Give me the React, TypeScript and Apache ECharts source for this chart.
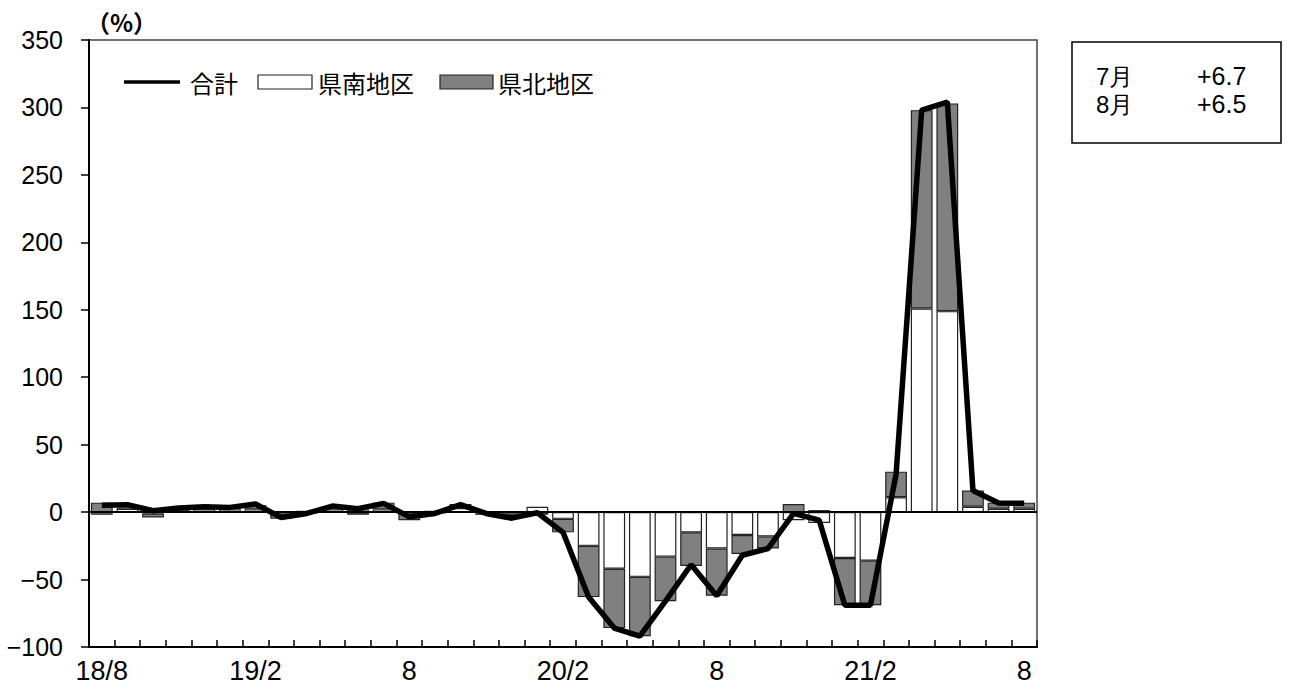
import React, { useEffect, useRef } from "react";
import * as echarts from "echarts";

const months: string[] = [
  "2018/8", "2018/9", "2018/10", "2018/11", "2018/12",
  "2019/1", "2019/2", "2019/3", "2019/4", "2019/5", "2019/6", "2019/7", "2019/8", "2019/9", "2019/10", "2019/11", "2019/12",
  "2020/1", "2020/2", "2020/3", "2020/4", "2020/5", "2020/6", "2020/7", "2020/8", "2020/9", "2020/10", "2020/11", "2020/12",
  "2021/1", "2021/2", "2021/3", "2021/4", "2021/5", "2021/6", "2021/7", "2021/8",
];

const tickLabels: string[] = ["18/8", "19/2", "8", "20/2", "8", "21/2", "8"];

const southValues: number[] = [
  -2, 2.5, -1, 1, 2, 2, 2, -1, 1, 2, 2, 2, -1, 1, 3, -1, -1, 4,
  -5, -25, -42, -48, -33, -15, -27, -17, -18, -6, -8, -34, -36,
  11, 151, 149, 4, 2.5, 2.5,
];

const northValues: number[] = [
  7, 1, -3, 1, 1, 1, 3, -4, -1, 2, -2, 5, -5, -1, 3, -1, -2, -2,
  -10, -38, -44, -44, -33, -25, -35, -14, -9, 6, 1.5, -35, -33,
  19, 147, 154, 12, 4.5, 4.5,
];

const totalValues: number[] = [
  5, 5.5, 1, 3, 4, 3.5, 6, -4, -1, 4.5, 2.5, 6.5, -3.5, -1, 5.5, -1, -4.5, -0.5,
  -15, -63, -86, -92, -66, -39, -62, -32, -27, -1, -6, -69, -69,
  28, 298, 304, 16, 6.7, 6.5,
];

const seriesNames = { total: "合計", south: "県南地区", north: "県北地区" };

const boxMonths: string[] = ["7月", "8月"];
const boxValues: string[] = ["+6.7", "+6.5"];

const SANS = "Liberation Sans, Arial, sans-serif";
const JP = "Noto Sans CJK JP, sans-serif";

export default function App() {
  const ref = useRef<HTMLDivElement>(null);
  useEffect(() => {
    if (!ref.current) return;
    const chart = echarts.init(ref.current, undefined, { renderer: "svg" });
    const legendY = 82;
    const boxTexts: any[] = [];
    boxMonths.forEach((m, i) => {
      boxTexts.push({
        type: "text",
        x: 1096,
        y: 76 + i * 28,
        style: { text: m, font: "24px " + SANS, fill: "#000", verticalAlign: "middle" },
      });
      boxTexts.push({
        type: "text",
        x: 1197,
        y: 76 + i * 28,
        style: { text: boxValues[i], font: "25px " + SANS, fill: "#000", verticalAlign: "middle" },
      });
    });
    chart.setOption({
      animation: false,
      backgroundColor: "#fff",
      grid: {
        left: 89,
        right: 259,
        top: 40,
        bottom: 49,
        containLabel: false,
        outerBoundsMode: "none",
        show: true,
        borderColor: "#444",
        borderWidth: 1.5,
      },
      legend: { show: false },
      xAxis: {
        type: "category",
        data: months,
        boundaryGap: true,
        axisLine: { onZero: false, lineStyle: { color: "#000", width: 2 } },
        axisTick: { show: true, inside: true, length: 7, interval: 0, lineStyle: { color: "#000", width: 1.5 } },
        axisLabel: {
          interval: 5,
          margin: 10,
          color: "#000",
          fontFamily: SANS,
          fontSize: 27,
          formatter: (_v: string, i: number) => (i % 6 === 0 ? tickLabels[i / 6] : ""),
        },
        splitLine: { show: false },
      },
      yAxis: {
        type: "value",
        min: -100,
        max: 350,
        interval: 50,
        axisLine: { show: true, lineStyle: { color: "#000", width: 2 } },
        axisTick: { show: true, inside: false, length: 8, lineStyle: { color: "#000", width: 1.5 } },
        axisLabel: {
          margin: 26,
          color: "#000",
          fontFamily: SANS,
          fontSize: 25,
          formatter: (v: number) => String(v).replace("-", "−"),
        },
        splitLine: { show: false },
      },
      series: [
        {
          name: seriesNames.south,
          type: "bar",
          stack: "area",
          data: southValues,
          barCategoryGap: "15%",
          itemStyle: { color: "#fff", borderColor: "#222", borderWidth: 1.2 },
        },
        {
          name: seriesNames.north,
          type: "bar",
          stack: "area",
          data: northValues,
          barCategoryGap: "15%",
          itemStyle: { color: "#808080", borderColor: "#222", borderWidth: 1.2 },
          markLine: {
            silent: true,
            symbol: ["none", "none"],
            label: { show: false },
            lineStyle: { color: "#000", width: 2, type: "solid" },
            data: [{ yAxis: 0 }],
          },
        },
        {
          name: seriesNames.total,
          type: "line",
          data: totalValues,
          symbol: "none",
          showSymbol: false,
          z: 5,
          lineStyle: { color: "#000", width: 5.5 },
          itemStyle: { color: "#000" },
        },
      ],
      graphic: [
        {
          type: "text",
          x: 86,
          y: 21,
          style: { text: "（%）", font: "bold 24px " + JP, fill: "#000", verticalAlign: "middle" },
        },
        // legend
        {
          type: "line",
          shape: { x1: 124, y1: legendY, x2: 180, y2: legendY },
          style: { stroke: "#000", lineWidth: 3.5 },
        },
        {
          type: "text",
          x: 190,
          y: legendY,
          style: { text: seriesNames.total, font: "24px " + JP, fill: "#000", verticalAlign: "middle" },
        },
        {
          type: "rect",
          shape: { x: 258, y: legendY - 7, width: 54, height: 14 },
          style: { fill: "#fff", stroke: "#222", lineWidth: 1.2 },
        },
        {
          type: "text",
          x: 318,
          y: legendY,
          style: { text: seriesNames.south, font: "24px " + JP, fill: "#000", verticalAlign: "middle" },
        },
        {
          type: "rect",
          shape: { x: 440, y: legendY - 7, width: 53, height: 14 },
          style: { fill: "#808080", stroke: "#222", lineWidth: 1.2 },
        },
        {
          type: "text",
          x: 498,
          y: legendY,
          style: { text: seriesNames.north, font: "24px " + JP, fill: "#000", verticalAlign: "middle" },
        },
        // info box
        {
          type: "rect",
          shape: { x: 1072, y: 42, width: 209, height: 101 },
          style: { fill: "#fff", stroke: "#000", lineWidth: 1.5 },
        },
        ...boxTexts,
      ],
    });
    return () => chart.dispose();
  }, []);
  return <div ref={ref} style={{ position: "fixed", left: 0, top: 0, width: 1296, height: 696 }} />;
}
